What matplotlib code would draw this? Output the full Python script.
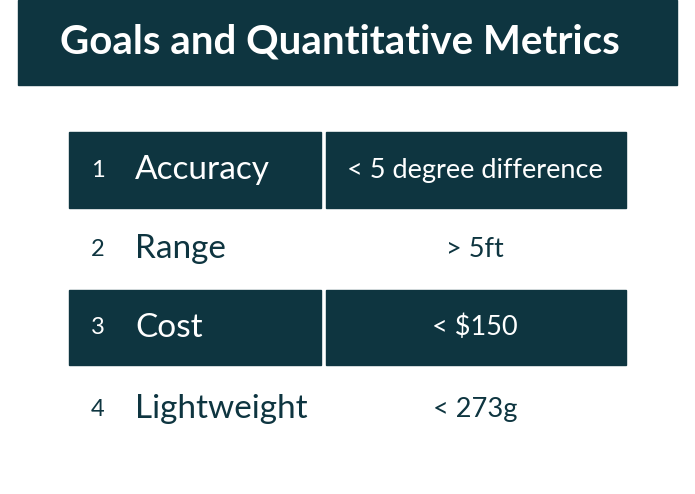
import matplotlib
matplotlib.use("Agg")
import matplotlib.pyplot as plt
from matplotlib.patches import Rectangle

title = "Goals and Quantitative Metrics"
numbers = ["1", "2", "3", "4"]
metrics = ["Accuracy", "Range", "Cost", "Lightweight"]
targets = ["< 5 degree difference", "> 5ft", "< $150", "< 273g"]
shaded = [True, False, True, False]

DARK = "#0e3540"
fig = plt.figure(figsize=(6.95, 4.94), dpi=100)
ax = fig.add_axes([0, 0, 1, 1])
ax.set_xlim(0, 695)
ax.set_ylim(494, 0)
ax.axis("off")

ax.add_patch(Rectangle((18, 0), 659, 85, color=DARK))
ax.text(340, 42, title, color="white", fontsize=29, fontweight="bold",
        family="Lato", ha="center", va="center")

row_tops = [132, 210, 290, 367]
row_h = [76, 78, 75, 84]
for i in range(len(metrics)):
    top, h = row_tops[i], row_h[i]
    tc = "white" if shaded[i] else DARK
    if shaded[i]:
        ax.add_patch(Rectangle((69, top), 252, h, color=DARK))
        ax.add_patch(Rectangle((326, top), 300, h, color=DARK))
    yc = top + h / 2
    ax.text(98, yc, numbers[i], color=tc, fontsize=17, family="Lato",
            ha="center", va="center")
    ax.text(135, yc, metrics[i], color=tc, fontsize=24, family="Lato",
            ha="left", va="center")
    ax.text(475, yc, targets[i], color=tc, fontsize=19.5, family="Lato",
            ha="center", va="center")

fig.savefig("out.png", dpi=100)
